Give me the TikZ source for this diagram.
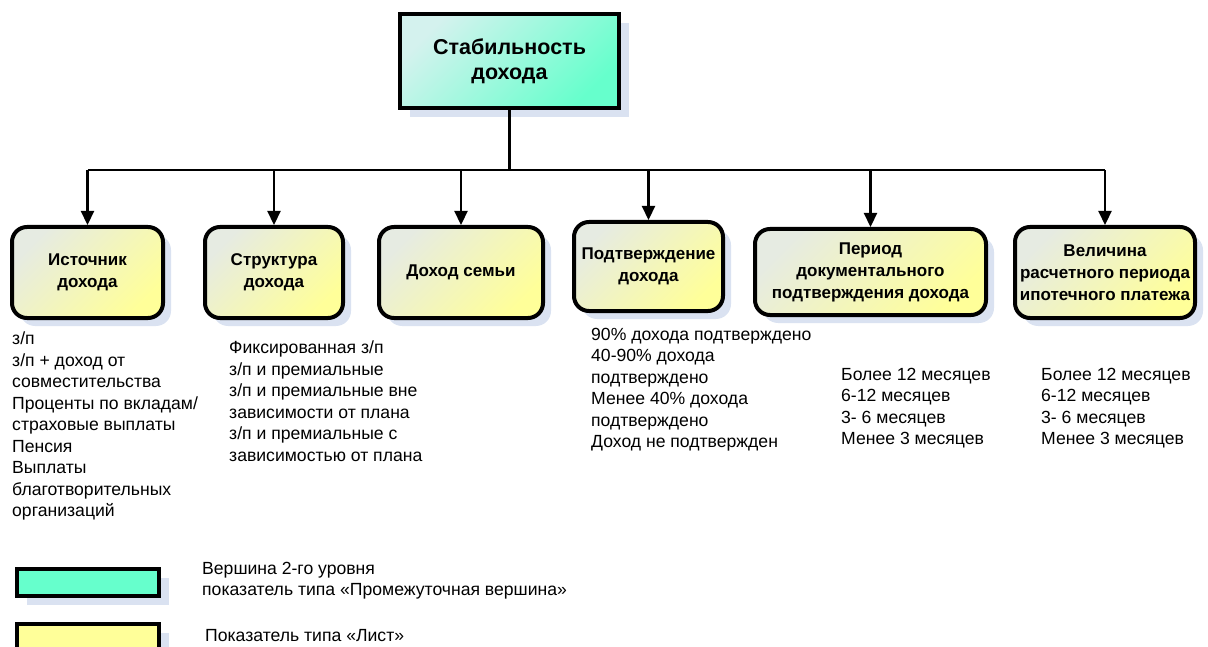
\documentclass[tikz,border=0pt]{standalone}
\usepackage{fontspec}
\setmainfont{Liberation Sans}
\usetikzlibrary{arrows.meta,shadows}
\definecolor{mintc}{HTML}{66FFCC}
\definecolor{mintlight}{HTML}{D4F2EE}
\definecolor{yelc}{HTML}{FFFF99}
\definecolor{yellight}{HTML}{E6EBE2}
\definecolor{shadc}{HTML}{DAE2F1}
\tikzset{
  leaf/.style={draw=black, line width=4pt, rounded corners=15pt, inner sep=0pt,
    top color=yellight, bottom color=yelc, shading angle=45,
    general shadow={shadow xshift=8pt, shadow yshift=-8pt, fill=shadc, draw=none},
    align=center, font=\bfseries\fontsize{17}{22}\selectfont},
  rootbox/.style={draw=black, line width=4pt, inner sep=0pt,
    top color=mintlight, bottom color=mintc, shading angle=45,
    general shadow={shadow xshift=10pt, shadow yshift=-9pt, fill=shadc, draw=none},
    align=center, font=\bfseries\fontsize{21.5}{25}\selectfont},
  legbox/.style={draw=black, line width=4pt, inner sep=0pt, anchor=north west,
    general shadow={shadow xshift=10pt, shadow yshift=-9pt, fill=shadc, draw=none}},
  listtxt/.style={anchor=north west, inner sep=0pt, align=left,
    font=\fontsize{17.6}{21.5}\selectfont},
  conn/.style={line width=2.2pt, draw=black},
  arr/.style={conn, -{Triangle[length=14pt,width=13pt]}}
}
\begin{document}
\begin{tikzpicture}[x=1pt,y=-1pt]
\useasboundingbox (0,0) rectangle (1208,647);
% root
\node[rootbox, minimum width=219pt, minimum height=94pt] (root) at (509.5,61) {Стабильность\\дохода};
% leaves
\node[leaf, minimum width=151pt, minimum height=91pt] (c1) at (87.5,272.5) {Источник\\дохода};
\node[leaf, minimum width=138pt, minimum height=91pt] (c2) at (274,272.5) {Структура\\дохода};
\node[leaf, minimum width=164pt, minimum height=91pt] (c3) at (461,272.5) {Доход семьи};
\node[leaf, minimum width=149pt, minimum height=89pt] (c4) at (648.5,266.5) {Подтверждение\\дохода};
\node[leaf, minimum width=231pt, minimum height=86pt] (c5) at (870.5,272) {Период\\документального\\подтверждения дохода};
\node[leaf, minimum width=180pt, minimum height=91pt] (c6) at (1105,272.5) {Величина\\расчетного периода\\ипотечного платежа};
% connectors
\coordinate (bus) at (509.5,170);
\draw[conn] (root.south) -- (bus);
\draw[conn] (c1.north |- bus) -- (c6.north |- bus);
\foreach \c in {c1,c2,c3,c4,c5,c6}{
  \draw[arr] (\c.north |- bus) -- (\c.north);
}
% lists
\node[listtxt] (l1) at (12,332) {з/п\\з/п + доход от\\совместительства\\Проценты по вкладам/\\страховые выплаты\\Пенсия\\Выплаты\\благотворительных\\организаций};
\node[listtxt] (l2) at (229,341) {Фиксированная з/п\\з/п и премиальные\\з/п и премиальные вне\\зависимости от плана\\з/п и премиальные с\\зависимостью от плана};
\node[listtxt] (l3) at (591,328) {90\% дохода подтверждено\\40-90\% дохода\\подтверждено\\Менее 40\% дохода\\подтверждено\\Доход не подтвержден};
\node[listtxt] (l4) at (841,368) {Более 12 месяцев\\6-12 месяцев\\3- 6 месяцев\\Менее 3 месяцев};
\node[listtxt] (l5) at (1041,368) {Более 12 месяцев\\6-12 месяцев\\3- 6 месяцев\\Менее 3 месяцев};
% legend
\node[legbox, fill=mintc, minimum width=142pt, minimum height=27pt] (lg1) at (15,567) {};
\node[legbox, fill=yelc, minimum width=142pt, minimum height=40pt] (lg2) at (15,622) {};
\node[listtxt] (lt1) at (202,562) {Вершина 2-го уровня\\показатель типа «Промежуточная вершина»};
\node[listtxt] (lt2) at (205,629) {Показатель типа «Лист»};
\end{tikzpicture}
\end{document}
